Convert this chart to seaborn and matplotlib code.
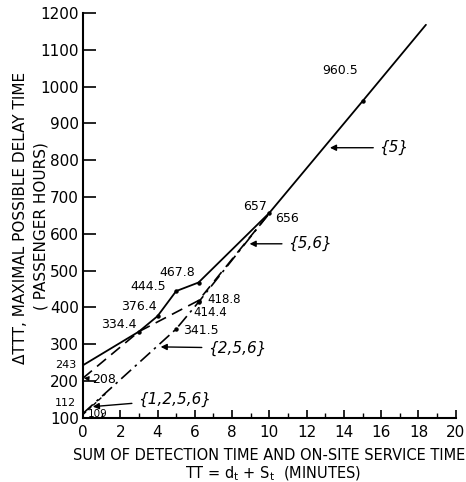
import matplotlib
matplotlib.use("Agg")
import matplotlib.pyplot as plt
import seaborn as sns
import pandas as pd

# ---- data ----
x_s5 = [0, 3, 4, 5, 6.2, 10, 15, 18.4]
y_s5 = [243, 334.4, 376.4, 444.5, 467.8, 657, 960.5, 1168]

x_s56 = [0, 3, 6.2, 10]
y_s56 = [208, 334.4, 418.8, 656]

x_s256 = [0, 5, 6.2, 10]
y_s256 = [112, 341.5, 414.4, 656]

x_s1256 = [0, 1.2]
y_s1256 = [109, 165]

x_ticks = list(range(0, 21, 2))
y_ticks = list(range(100, 1201, 100))

sns.set_style("ticks", {"text.color": "black", "axes.edgecolor": "black",
                        "xtick.color": "black", "ytick.color": "black",
                        "axes.labelcolor": "black"})
plt.rcParams['font.family'] = ['DejaVu Sans']

fig = plt.figure(figsize=(4.66, 4.82), dpi=100)
ax = fig.add_axes([0.178, 0.133, 0.800, 0.840])

def df(x, y, name):
    return pd.DataFrame({"x": x, "y": y, "s": name})

sns.lineplot(data=df(x_s5, y_s5, "5"), x="x", y="y", ax=ax, color="black",
             lw=1.3, sort=False, estimator=None)
sns.lineplot(data=df(x_s56, y_s56, "56"), x="x", y="y", ax=ax, color="black",
             lw=1.2, sort=False, estimator=None)
ax.lines[-1].set_dashes([7, 4])
sns.lineplot(data=df(x_s256, y_s256, "256"), x="x", y="y", ax=ax, color="black",
             lw=1.2, sort=False, estimator=None)
ax.lines[-1].set_dashes([8, 3, 1.5, 3])
sns.lineplot(data=df(x_s1256, y_s1256, "1256"), x="x", y="y", ax=ax, color="black",
             lw=1.0, sort=False, estimator=None)
ax.lines[-1].set_dashes([3, 2])

# small point markers at the labelled values
ax.plot(x_s5[1:7], y_s5[1:7], 'o', color='black', ms=2.2)
ax.plot([x_s56[2], x_s256[1], x_s256[2]], [y_s56[2], y_s256[1], y_s256[2]], 'o',
        color='black', ms=2.2)

ax.set_xlim(0, 20)
ax.set_ylim(100, 1200)
ax.set_xticks(x_ticks)
ax.set_xticks(range(1, 21, 2), minor=True)
ax.set_yticks(y_ticks)
ax.set_xticklabels([str(v) for v in x_ticks], fontsize=11, color='black')
ax.set_yticklabels([str(v) for v in y_ticks], fontsize=11, color='black')
ax.tick_params(axis='y', direction='in', length=9, width=1.2, pad=3, color='black')
ax.tick_params(axis='x', which='major', direction='in', length=6, width=1.2, pad=5, color='black')
ax.tick_params(axis='x', which='minor', direction='in', length=3.5, width=1.0, color='black')
for sp in ['top', 'right']:
    ax.spines[sp].set_visible(False)
for sp in ['left', 'bottom']:
    ax.spines[sp].set_linewidth(1.5)
    ax.spines[sp].set_color('black')
ax.set_xlabel("")
ax.set_ylabel("")

fs = 9
def t(x, y, s, size=fs):
    ax.text(x, y, s, fontsize=size, ha='center', va='center', clip_on=False, color='black')

t(13.78, 1045, "960.5")
t(9.22, 673, "657")
t(10.94, 641, "656")
t(5.04, 494, "467.8")
t(3.49, 456, "444.5")
t(3.0, 402, "376.4")
t(1.93, 355, "334.4")
t(7.55, 422, "418.8", size=8.5)
t(6.85, 386, "414.4", size=8.5)
t(6.33, 338, "341.5")
t(0.8, 111, "109", size=7.5)
ax.text(-0.35, 244, "243", fontsize=8, ha='right', va='center', clip_on=False, color='black')
ax.text(-0.35, 140, "112", fontsize=8, ha='right', va='center', clip_on=False, color='black')

arrow = dict(arrowstyle='-|>', color='black', lw=1.0, mutation_scale=9)
brace_fs = 11
ax.annotate("{5}", xy=(13.1, 834), xytext=(15.9, 834), fontsize=brace_fs,
            style='italic', ha='left', va='center', arrowprops=arrow, color='black')
ax.annotate("{5,6}", xy=(8.79, 573), xytext=(11.0, 573), fontsize=brace_fs,
            style='italic', ha='left', va='center', arrowprops=arrow, color='black')
ax.annotate("{2,5,6}", xy=(4.02, 293), xytext=(6.7, 290), fontsize=brace_fs,
            style='italic', ha='left', va='center', arrowprops=arrow, color='black')
ax.annotate("{1,2,5,6}", xy=(0.38, 130), xytext=(2.95, 149), fontsize=brace_fs,
            style='italic', ha='left', va='center', arrowprops=arrow, color='black')
ax.annotate("208", xy=(0.05, 208), xytext=(0.5, 203), fontsize=fs,
            ha='left', va='center', color='black',
            arrowprops=dict(arrowstyle='-|>', color='black', lw=0.8, mutation_scale=7))

fig.text(0.045, 0.548, "ΔTTT, MAXIMAL POSSIBLE DELAY TIME", rotation=90,
         fontsize=11, ha='center', va='center', color='black')
fig.text(0.088, 0.530, "( PASSENGER HOURS)", rotation=90,
         fontsize=11, ha='center', va='center', color='black')
fig.text(0.578, 0.056, "SUM OF DETECTION TIME AND ON-SITE SERVICE TIME",
         fontsize=10.5, ha='center', va='center', color='black')
fig.text(0.585, 0.016, r"TT = d$_\mathregular{t}$ + S$_\mathregular{t}$  (MINUTES)",
         fontsize=10.5, ha='center', va='center', color='black')

fig.savefig("out.png", dpi=100)
